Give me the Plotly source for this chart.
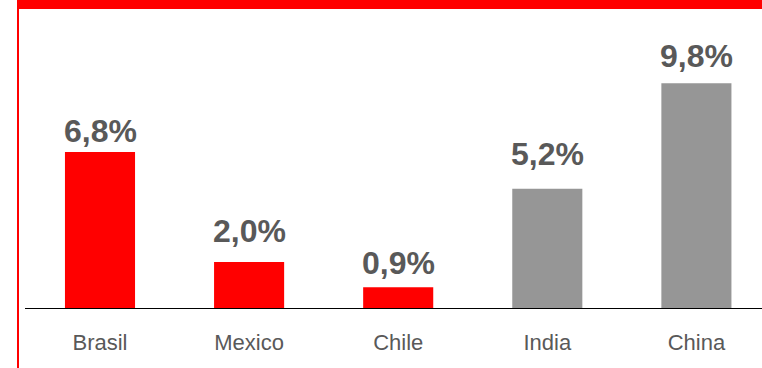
import plotly.graph_objects as go

# GDP growth by country
countries = ["Brasil", "Mexico", "Chile", "India", "China"]
growth = [6.8, 2.0, 0.9, 5.2, 9.8]
latam = [True, True, True, False, False]

RED = "#FF0000"
GREY = "#969696"
TEXT = "#595959"
FONT = "Liberation Sans, Arial, sans-serif"

W, H = 762, 368
plot_left, plot_right = 25, 762
plot_top, plot_bottom = 9, 308

# pixel lift of each value label above its bar
label_lift = [1, 11.5, 4, 15, 7]

colors = [RED if l else GREY for l in latam]
labels = [f"{v:.1f}%".replace(".", ",") for v in growth]

fig = go.Figure(
    go.Bar(
        x=list(range(len(countries))),
        y=growth,
        width=0.47,
        marker=dict(color=colors, line=dict(width=0)),
        hoverinfo="skip",
    )
)

# value labels above each bar
for i, (v, t) in enumerate(zip(growth, labels)):
    fig.add_annotation(
        x=i, y=v, text=f"<b>{t}</b>", showarrow=False,
        xanchor="center", yanchor="bottom", yshift=label_lift[i],
        font=dict(family=FONT, size=32, color=TEXT),
    )

px_per_unit = 149.1
x0 = -(100 - plot_left) / px_per_unit
x1 = x0 + (plot_right - plot_left) / px_per_unit

fig.update_layout(
    width=W, height=H,
    margin=dict(l=0, r=0, t=0, b=0),
    paper_bgcolor="white", plot_bgcolor="white",
    showlegend=False,
    xaxis=dict(
        domain=[plot_left / W, plot_right / W],
        range=[x0, x1],
        tickmode="array",
        tickvals=list(range(len(countries))),
        ticktext=countries,
        tickfont=dict(family=FONT, size=22, color=TEXT),
        showline=True, linecolor="black", linewidth=1,
        showgrid=False, zeroline=False, ticks="",
        ticklabelstandoff=15,
    ),
    yaxis=dict(
        domain=[(H - plot_bottom) / H, (H - plot_top) / H],
        range=[0, (plot_bottom - plot_top) / 22.94],
        visible=False,
    ),
    shapes=[
        # red header band
        dict(type="rect", xref="paper", yref="paper",
             x0=17 / W, x1=1, y0=(H - 9) / H, y1=1,
             fillcolor=RED, line=dict(width=0), layer="above"),
        # red left rule
        dict(type="rect", xref="paper", yref="paper",
             x0=17 / W, x1=19 / W, y0=0, y1=(H - 9) / H,
             fillcolor=RED, line=dict(width=0), layer="above"),
    ],
)

fig.write_html("out.html")
